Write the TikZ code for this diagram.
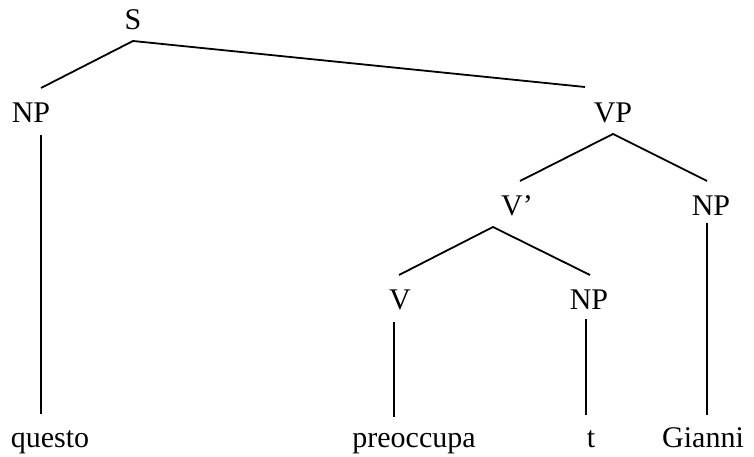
\documentclass[tikz,border=0pt]{standalone}
\usepackage{fontspec}
\setmainfont{Liberation Serif}
\begin{document}
\begin{tikzpicture}[x=1pt,y=1pt,
  lbl/.style={anchor=base,inner sep=0pt,font=\fontsize{30}{36}\selectfont},
  edge/.style={draw=black,line width=1.8pt}]
\useasboundingbox (0,0) rectangle (754,457);
% labels
\node[lbl] (S) at (133,427) {S};
\node[lbl] (NPa) at (31,334) {NP};
\node[lbl] (VP) at (613,334) {VP};
\node[lbl] (Vbar) at (517,241) {V’};
\node[lbl] (NPb) at (711,241) {NP};
\node[lbl] (V) at (400,147) {V};
\node[lbl] (NPc) at (589,147) {NP};
\node[lbl] (questo) at (50,9) {questo};
\node[lbl] (preoccupa) at (414,9) {preoccupa};
\node[lbl] (t) at (591,9) {t};
\node[lbl] (Gianni) at (703,9) {Gianni};
% connector ends
\coordinate (S-d) at (133,416);
\coordinate (NPa-u) at (41,369);
\coordinate (VP-u) at (585,370);
\coordinate (NPa-d) at (41,322);
\coordinate (questo-u) at (41,43);
\coordinate (VP-d) at (613,323);
\coordinate (Vbar-u) at (520,276);
\coordinate (NPb-u) at (707,276);
\coordinate (NPb-d) at (707,234);
\coordinate (Gianni-u) at (707,42);
\coordinate (Vbar-d) at (493,230);
\coordinate (V-u) at (399,182);
\coordinate (NPc-u) at (590,182);
\coordinate (V-d) at (394,135);
\coordinate (preoccupa-u) at (394,40);
\coordinate (NPc-d) at (586,138);
\coordinate (t-u) at (586,42);
% connectors
\draw[edge] (NPa-u) -- (S-d) -- (VP-u);
\draw[edge] (NPa-d) -- (questo-u);
\draw[edge] (Vbar-u) -- (VP-d) -- (NPb-u);
\draw[edge] (NPb-d) -- (Gianni-u);
\draw[edge] (V-u) -- (Vbar-d) -- (NPc-u);
\draw[edge] (V-d) -- (preoccupa-u);
\draw[edge] (NPc-d) -- (t-u);
\end{tikzpicture}
\end{document}
